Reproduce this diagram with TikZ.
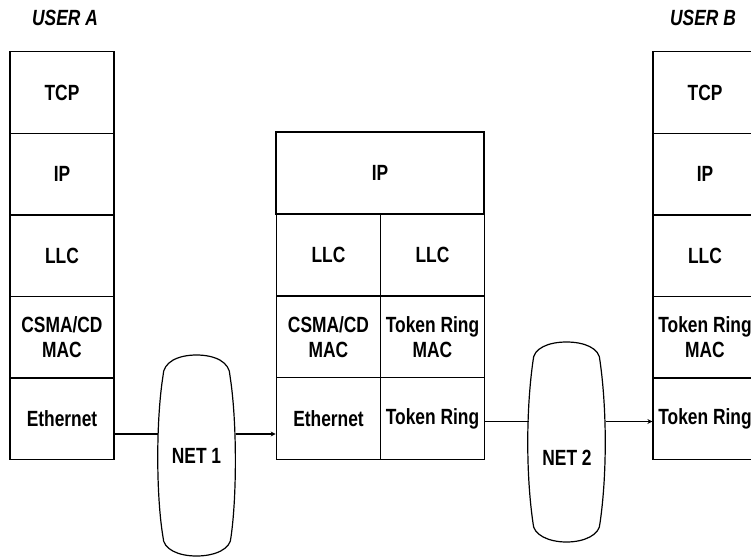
\documentclass[tikz,border=0pt]{standalone}
\usepackage{fontspec}
\setmainfont{Liberation Sans}[FakeStretch=0.79]
\usetikzlibrary{arrows.meta}
\begin{document}
\begin{tikzpicture}[x=1pt,y=-1pt,
  line width=1.2pt,
  txt/.style={font=\fontsize{22}{25}\selectfont\bfseries, align=center},
  cell/.style={txt, draw, inner sep=0pt, minimum width=104pt, minimum height=81.5pt},
  half/.style={cell, minimum width=104.5pt},
  wide/.style={cell, minimum width=208pt, minimum height=82pt},
  usr/.style={font=\fontsize{22}{25}\selectfont\bfseries\itshape},
  netlbl/.style={txt, inner sep=0pt, minimum width=79pt, minimum height=20pt},
  link/.style={line width=1.2pt},
  cloud/.style={line width=1.2pt},
  tip/.style={-{Stealth[length=5pt,width=5pt]}}]
\useasboundingbox (0,0) rectangle (751,557);
\clip (0,0) rectangle (751,557);
% labels
\node[usr] (ua) at (65,18) {USER A};
\node[usr] (ub) at (703,18) {USER B};
% user A stack
\node[cell] (tcpA) at (62,92.5) {TCP};
\node[cell] (ipA)  at (62,174) {IP};
\node[cell] (llcA) at (62,256) {LLC};
\node[cell] (macA) at (62,337.5) {CSMA/CD\\MAC};
\node[cell] (ethA) at (62,418.5) {Ethernet};
% router stack
\node[wide] (ipR) at (380,173) {IP};
\node[half] (llcR1) at (328.5,255) {LLC};
\node[half] (llcR2) at (432.5,255) {LLC};
\node[half] (macR1) at (328.5,337) {CSMA/CD\\MAC};
\node[half] (macR2) at (432.5,337) {Token Ring\\MAC};
\node[half] (ethR1) at (328.5,418.5) {Ethernet};
\node[half] (trR2) at (432.5,418.5) {Token Ring};
% user B stack
\node[cell] (tcpB) at (705,92.5) {TCP};
\node[cell] (ipB)  at (705,174) {IP};
\node[cell] (llcB) at (705,256) {LLC};
\node[cell] (macB) at (705,337.5) {Token Ring\\MAC};
\node[cell] (trB)  at (705,418.5) {Token Ring};
% clouds
\draw[cloud] (163,376) .. controls (163,362) and (178,355) .. (196.5,355)
  .. controls (215,355) and (230,362) .. (230,376)
  .. controls (237,420) and (237,495) .. (231,537)
  .. controls (231,549) and (215,556) .. (196.5,556)
  .. controls (178,556) and (163,549) .. (163,537)
  .. controls (156,495) and (156,420) .. cycle;
\node[netlbl] (net1) at (196.5,456) {NET 1};
\draw[cloud] (533,361) .. controls (533,348) and (549,342) .. (566.5,342)
  .. controls (584,342) and (600,348) .. (600,361)
  .. controls (607,410) and (607,475) .. (600,523)
  .. controls (600,535) and (584,542) .. (566.5,542)
  .. controls (549,542) and (533,535) .. (533,523)
  .. controls (526,475) and (526,410) .. cycle;
\node[netlbl] (net2) at (567,458) {NET 2};
% connectors
\coordinate (y1) at (0,434);
\coordinate (y2) at (0,421.5);
\draw[link] (ethA.east |- y1) -- ([xshift=2pt]net1.west |- y1);
\draw[link,tip] ([xshift=-1pt]net1.east |- y1) -- (ethR1.west |- y1);
\draw[link] (trR2.east |- y2) -- ([xshift=2pt]net2.west |- y2);
\draw[link,tip] ([xshift=-1pt]net2.east |- y2) -- (trB.west |- y2);
\end{tikzpicture}
\end{document}
